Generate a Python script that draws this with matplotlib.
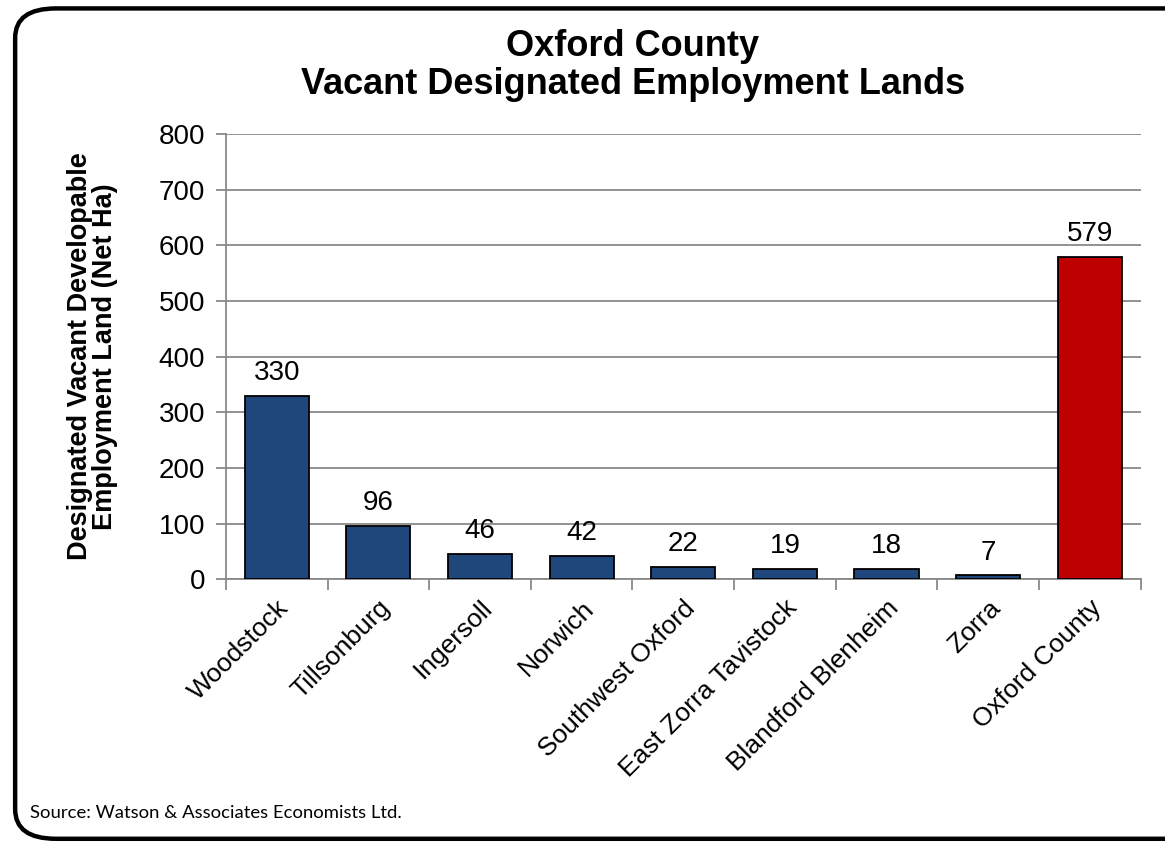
import matplotlib.pyplot as plt
from matplotlib.patches import FancyBboxPatch

# vacant designated employment land by municipality (net ha)
areas = ['Woodstock', 'Tillsonburg', 'Ingersoll', 'Norwich', 'Southwest Oxford',
         'East Zorra Tavistock', 'Blandford Blenheim', 'Zorra', 'Oxford County']
hectares = [330, 96, 46, 42, 22, 19, 18, 7, 579]
bar_colors = ['#1F477B'] * 8 + ['#BE0000']

plt.rcParams['font.family'] = ['Liberation Sans', 'DejaVu Sans']

fig = plt.figure(figsize=(11.65, 8.43), dpi=100)

# rounded frame around the whole slide
frame = FancyBboxPatch((0.013, 0.005), 1.05, 0.985,
                       boxstyle='round,pad=0,rounding_size=0.035',
                       transform=fig.transFigure, fill=False,
                       edgecolor='black', linewidth=3.2, clip_on=False)
fig.patches.append(frame)

ax = fig.add_axes([0.194, 0.313, 0.785, 0.528])
x = range(len(areas))
bars = ax.bar(x, hectares, width=0.63, color=bar_colors,
              edgecolor='black', linewidth=1.3, zorder=3)

for b, v in zip(bars, hectares):
    ax.annotate(str(v), (b.get_x() + b.get_width() / 2, v),
                xytext=(0, 7), textcoords='offset points',
                ha='center', va='bottom', fontsize=20)

ax.set_xlim(-0.5, len(areas) - 0.5)
ax.set_ylim(0, 800)
ax.set_yticks(range(0, 801, 100))
ax.tick_params(axis='y', labelsize=20, length=7, width=1.3, color='#898989', pad=8)
ax.yaxis.grid(True, color='#898989', linewidth=1.3, zorder=0)

ax.set_xticks([i + 0.5 for i in range(-1, len(areas))], minor=False)
ax.set_xticklabels([])
ax.tick_params(axis='x', length=8, width=1.3, color='#898989')
ax.set_xticks(list(x), minor=True)
ax.set_xticklabels(areas, minor=True, rotation=45, ha='right',
                   rotation_mode='anchor', fontsize=19)
ax.tick_params(axis='x', which='minor', length=0, pad=12)

for side in ('top', 'right'):
    ax.spines[side].set_visible(False)
for side in ('left', 'bottom'):
    ax.spines[side].set_color('#898989')
    ax.spines[side].set_linewidth(1.3)

ax.set_ylabel('Designated Vacant Developable\nEmployment Land (Net Ha)',
              fontsize=19.5, fontweight='bold', linespacing=0.95)
ax.yaxis.set_label_coords(-0.118, 0.5)

fig.text(0.543, 0.922, 'Oxford County\nVacant Designated Employment Lands',
         ha='center', va='center', fontsize=26, fontweight='bold', linespacing=1.1)

fig.text(0.026, 0.035, 'Source: Watson & Associates Economists Ltd.',
         fontsize=13.3, family=['Lato', 'DejaVu Sans'], ha='left', va='center')

fig.savefig('out.png', dpi=100)
